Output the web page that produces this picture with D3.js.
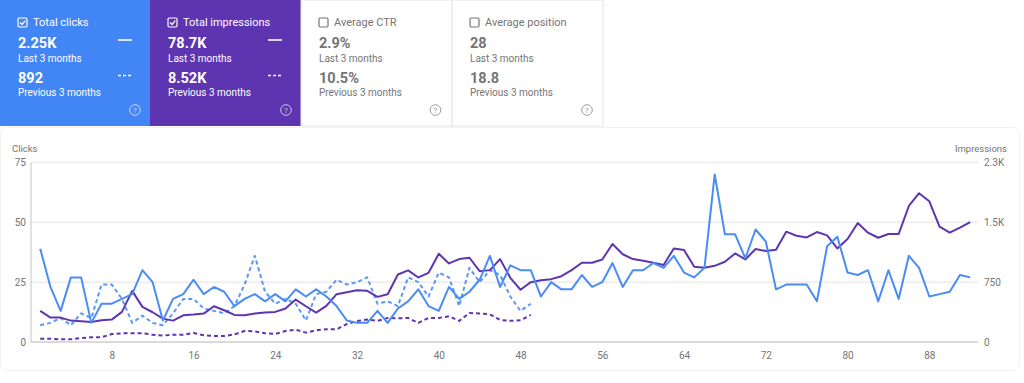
<!DOCTYPE html>
<html>
<head>
<meta charset="utf-8">
<script src="https://cdn.jsdelivr.net/npm/d3@7"></script>
<style>
  body { margin: 0; background: #fff; }
  svg { display: block; font-family: Roboto, "Noto Sans", sans-serif; }
</style>
</head>
<body>
<div id="wrapper"></div>
<script>
// summary cards
const cardLabels = ["Total clicks", "Total impressions", "Average CTR", "Average position"]
const cardLast = ["2.25K", "78.7K", "2.9%", "28"]
const cardPrev = ["892", "8.52K", "10.5%", "18.8"]
const cardChecked = [true, true, false, false]

// daily series (last 3 months = 92 days, previous period shown for 49 days)
const clicksLast = [39, 23, 13, 27, 27, 8, 16, 16, 18, 20, 30, 25, 9, 18, 20, 26, 20, 23, 21, 15,
  18, 20, 17, 20, 17, 22, 19, 22, 19, 15, 9, 8, 8, 13, 8, 14, 17, 22, 15, 13,
  23, 18, 21, 26, 36, 23, 32, 30, 30, 19, 25, 22, 22, 28, 23, 25, 33, 23, 30, 30,
  33, 31, 36, 29, 27, 31, 70, 45, 45, 35, 47, 42, 22, 24, 24, 24, 17, 40, 44, 29,
  28, 30, 17, 30, 18, 36, 31, 19, 20, 21, 28, 27]
const clicksPrev = [7, 8, 10, 7, 12, 10, 24, 24, 18, 8, 11, 8, 7, 12, 18, 18, 14, 13, 12, 15,
  24, 36, 21, 16, 18, 16, 9, 20, 21, 26, 24, 25, 27, 16, 17, 15, 27, 25, 19, 29,
  27, 15, 31, 25, 30, 28, 19, 13, 16]
const imprLast = [390, 306, 306, 268, 260, 251, 272, 281, 377, 641, 440, 373, 293, 268, 335, 344, 356, 448, 398, 339,
  335, 356, 369, 377, 419, 532, 448, 369, 453, 599, 624, 649, 641, 566, 599, 846, 897, 809, 867, 1106,
  985, 1039, 1056, 888, 901, 1039, 805, 655, 750, 775, 788, 825, 901, 993, 993, 1035, 1228, 1100, 1040, 1018,
  993, 964, 1173, 1152, 943, 930, 955, 1006, 1110, 1035, 1165, 1140, 1156, 1383, 1332, 1311, 1378, 1336, 1173, 1290,
  1492, 1370, 1307, 1353, 1353, 1705, 1865, 1764, 1446, 1370, 1433, 1504]
const imprPrev = [42, 42, 34, 34, 50, 59, 59, 100, 109, 109, 109, 92, 80, 92, 92, 113, 84, 75, 75, 96,
  138, 134, 109, 100, 138, 155, 117, 147, 159, 159, 225, 264, 281, 264, 302, 297, 302, 239, 302, 302,
  323, 264, 365, 356, 348, 276, 266, 272, 339]

// axes
const xTicks = [8, 16, 24, 32, 40, 48, 56, 64, 72, 80, 88]
const clickTicks = [0, 25, 50, 75]
const imprTicks = [0, 750, 1500, 2250]
const imprTickLabels = ["0", "750", "1.5K", "2.3K"]

const blue = "#4285f4"
const purple = "#5e35b1"
const grey = "#757575"

let dimensions = {
    width: 1024,
    height: 383,
    margin: { top: 162.5, right: 46, bottom: 41, left: 31 },
}
dimensions.boundedWidth = dimensions.width - dimensions.margin.left - dimensions.margin.right
dimensions.boundedHeight = dimensions.height - dimensions.margin.top - dimensions.margin.bottom

const wrapper = d3.select("#wrapper")
    .append("svg")
    .attr("width", dimensions.width)
    .attr("height", dimensions.height)

// chart panel
wrapper.append("rect")
    .attr("x", 0.5).attr("y", 127.5)
    .attr("width", 1019).attr("height", 243)
    .attr("rx", 6)
    .attr("fill", "#fff")
    .attr("stroke", "#f2f2f2")

// ---- cards
const cardX = [0, 150, 301, 452]
const cardW = [150, 151, 151, 151]
const cardFill = [blue, purple, "#fff", "#fff"]

const cards = wrapper.selectAll("g.card")
    .data(cardLabels)
    .enter().append("g")
    .attr("class", "card")
    .attr("transform", (d, i) => `translate(${cardX[i]},0)`)

cards.append("rect")
    .attr("width", (d, i) => cardW[i])
    .attr("height", 126)
    .attr("fill", (d, i) => cardFill[i])
    .attr("stroke", (d, i) => cardChecked[i] ? "none" : "#e4e4e4")

const txt = (d, i) => cardChecked[i] ? "#fff" : grey

cards.append("rect")
    .attr("x", 18).attr("y", 18)
    .attr("width", 9).attr("height", 9)
    .attr("rx", 1.2)
    .attr("fill", "none")
    .attr("stroke", txt)
    .attr("stroke-width", 1.2)

cards.filter((d, i) => cardChecked[i]).append("path")
    .attr("d", "M20,22.5 L22,24.5 L25.3,20.6")
    .attr("fill", "none")
    .attr("stroke", "#fff")
    .attr("stroke-width", 1.3)

cards.append("text")
    .attr("x", 33).attr("y", 26)
    .attr("font-size", 11)
    .attr("fill", txt)
    .text(d => d)

cards.append("text")
    .attr("x", 18).attr("y", 47.5)
    .attr("font-size", 14.5).attr("font-weight", 700)
    .attr("fill", txt)
    .text((d, i) => cardLast[i])

cards.append("text")
    .attr("x", 18).attr("y", 61.5)
    .attr("font-size", 10)
    .attr("fill", txt)
    .text("Last 3 months")

cards.append("text")
    .attr("x", 18).attr("y", 82.5)
    .attr("font-size", 14.5).attr("font-weight", 700)
    .attr("fill", txt)
    .text((d, i) => cardPrev[i])

cards.append("text")
    .attr("x", 18).attr("y", 95.5)
    .attr("font-size", 10)
    .attr("fill", txt)
    .text("Previous 3 months")

// legend swatches on checked cards
const checkedCards = cards.filter((d, i) => cardChecked[i])
checkedCards.append("line")
    .attr("x1", 118).attr("x2", 132).attr("y1", 40).attr("y2", 40)
    .attr("stroke", "#fff").attr("stroke-width", 1.6)
checkedCards.append("line")
    .attr("x1", 118).attr("x2", 132).attr("y1", 75.5).attr("y2", 75.5)
    .attr("stroke", "#fff").attr("stroke-width", 1.6)
    .attr("stroke-dasharray", "3,2")

// help icons
const helpX = [135, 136, 134.5, 135]
const helpColor = (d, i) => cardChecked[i] ? "rgba(255,255,255,0.7)" : "#9e9e9e"
cards.append("circle")
    .attr("cx", (d, i) => helpX[i]).attr("cy", 110)
    .attr("r", 5.3)
    .attr("fill", "none")
    .attr("stroke", helpColor)
cards.append("text")
    .attr("x", (d, i) => helpX[i]).attr("y", 113)
    .attr("text-anchor", "middle")
    .attr("font-size", 8)
    .attr("fill", helpColor)
    .text("?")

// ---- chart
const bounds = wrapper.append("g")
    .attr("transform", `translate(${dimensions.margin.left}, ${dimensions.margin.top})`)

const xScale = d3.scaleLinear()
    .domain([0, 93])
    .range([-1, dimensions.boundedWidth + 2.4])

const yClicks = d3.scaleLinear()
    .domain([0, 75])
    .range([dimensions.boundedHeight, 0])

const yImpr = d3.scaleLinear()
    .domain([0, 2250])
    .range([dimensions.boundedHeight, 0])

// grid
bounds.selectAll("line.grid")
    .data(clickTicks.slice(1))
    .enter().append("line")
    .attr("class", "grid")
    .attr("x1", 0).attr("x2", dimensions.boundedWidth)
    .attr("y1", d => yClicks(d)).attr("y2", d => yClicks(d))
    .attr("stroke", "#efefef").attr("stroke-width", 2)

bounds.append("line")
    .attr("x1", 0).attr("x2", dimensions.boundedWidth)
    .attr("y1", dimensions.boundedHeight).attr("y2", dimensions.boundedHeight)
    .attr("stroke", "#b5b5b5").attr("stroke-width", 1.2)
bounds.append("line")
    .attr("x1", 0).attr("x2", 0)
    .attr("y1", 0).attr("y2", dimensions.boundedHeight)
    .attr("stroke", "#c4c4c4").attr("stroke-width", 1)

// axes
const leftAxis = d3.axisLeft(yClicks).tickValues(clickTicks).tickSize(0).tickPadding(5)
const rightAxis = d3.axisRight(yImpr).tickValues(imprTicks).tickSize(0).tickPadding(6)
    .tickFormat((d, i) => imprTickLabels[i])
const bottomAxis = d3.axisBottom(xScale).tickValues(xTicks).tickSize(0).tickPadding(10)

const styleAxis = g => {
    g.select(".domain").remove()
    g.selectAll("text").attr("fill", grey).attr("font-size", 10)
        .attr("font-family", "Roboto, 'Noto Sans', sans-serif")
}

bounds.append("g").call(leftAxis).call(styleAxis)
bounds.append("g")
    .attr("transform", `translate(${dimensions.boundedWidth},0)`)
    .call(rightAxis).call(styleAxis)
bounds.append("g")
    .attr("transform", `translate(0,${dimensions.boundedHeight})`)
    .call(bottomAxis).call(styleAxis)

wrapper.append("text")
    .attr("x", 12).attr("y", 152)
    .attr("font-size", 9.5).attr("fill", grey)
    .text("Clicks")
wrapper.append("text")
    .attr("x", 1007).attr("y", 152)
    .attr("text-anchor", "end")
    .attr("font-size", 9.5).attr("fill", grey)
    .text("Impressions")

// lines
const clickLine = d3.line().x((d, i) => xScale(i + 1)).y(d => yClicks(d))
const imprLine = d3.line().x((d, i) => xScale(i + 1)).y(d => yImpr(d))

const series = [
    { values: imprPrev, line: imprLine, color: purple, dash: "4,3" },
    { values: clicksPrev, line: clickLine, color: "#5a97f6", dash: "4,3" },
    { values: imprLast, line: imprLine, color: purple, dash: null },
    { values: clicksLast, line: clickLine, color: "#4a8cf5", dash: null },
]

bounds.selectAll("path.series")
    .data(series)
    .enter().append("path")
    .attr("class", "series")
    .attr("d", d => d.line(d.values))
    .attr("fill", "none")
    .attr("stroke", d => d.color)
    .attr("stroke-width", 2)
    .attr("stroke-linejoin", "round")
    .attr("stroke-dasharray", d => d.dash)
</script>
</body>
</html>
